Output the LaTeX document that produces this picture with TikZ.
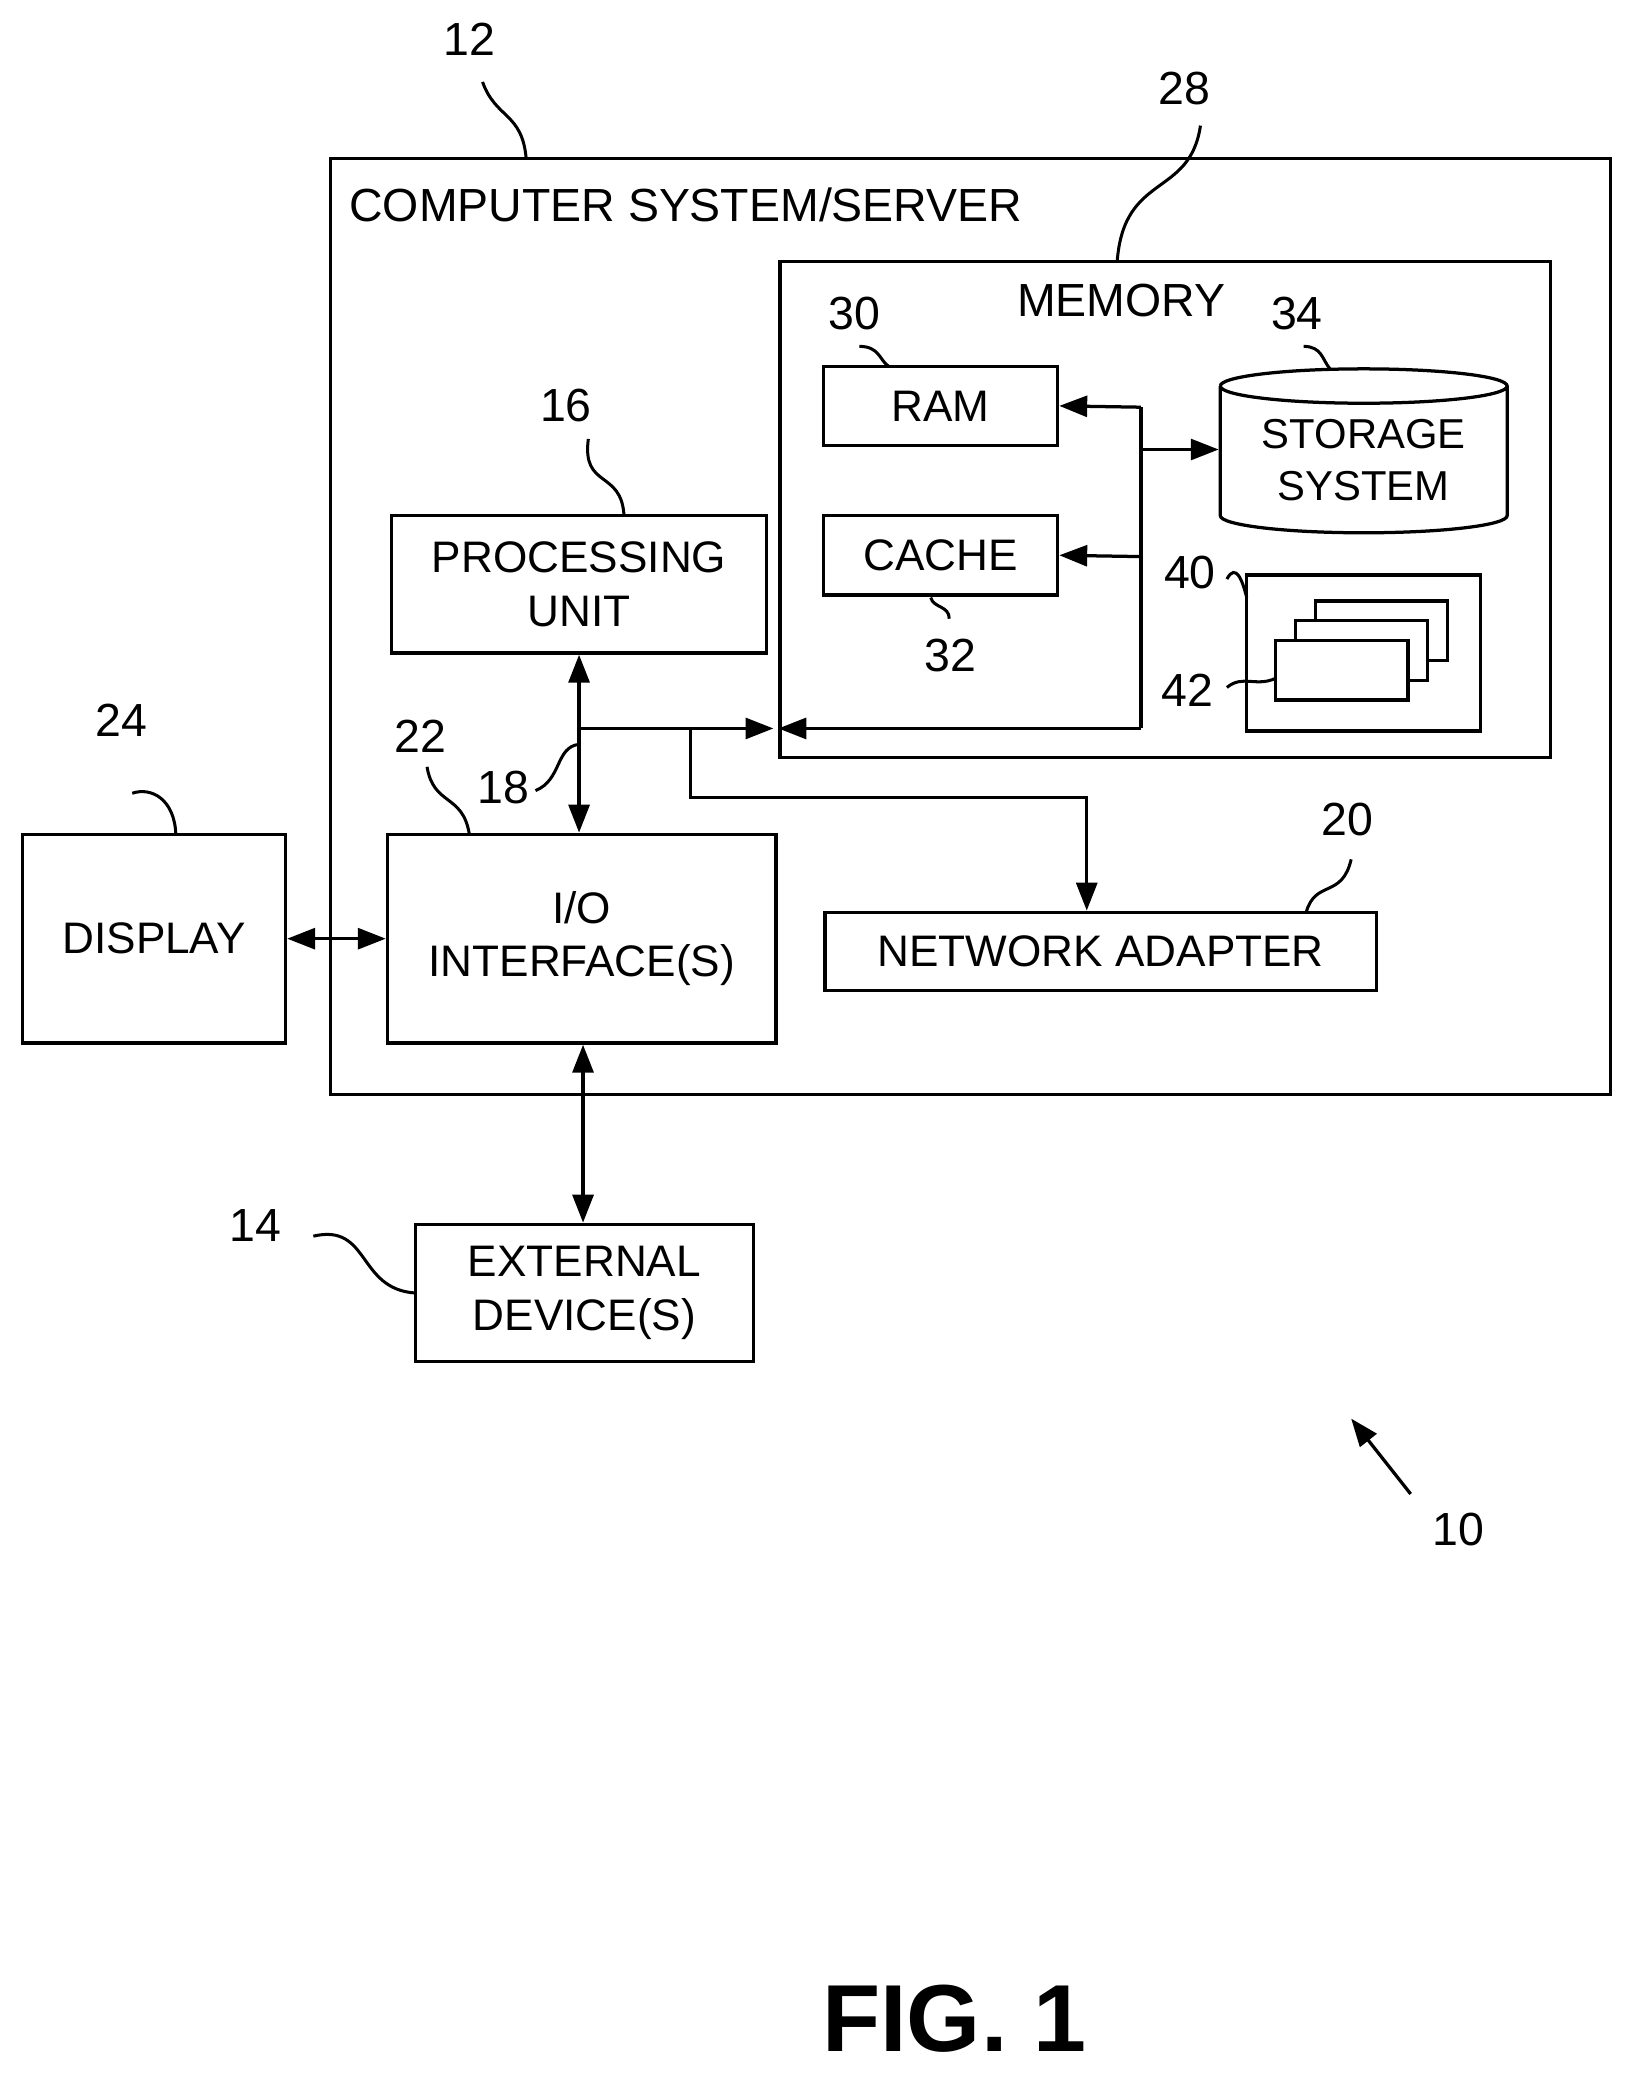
\documentclass[tikz,border=0pt]{standalone}
\usepackage{fontspec}
\setmainfont{Liberation Sans}
\usetikzlibrary{arrows.meta}
\begin{document}
\begin{tikzpicture}[x=0.02cm,y=-0.02cm,line width=1.4pt,
  box/.style={draw,rectangle,inner sep=0pt,align=center,font=\fontsize{19}{23}\selectfont},
  lbl/.style={font=\fontsize{20}{24}\selectfont,inner sep=0pt},
  arr/.style={-{Triangle[length=12pt,width=9pt]}},
  darr/.style={{Triangle[length=12pt,width=9pt]}-{Triangle[length=12pt,width=9pt]}},
  sq/.style={line width=1.3pt}]
\useasboundingbox (0,0) rectangle (1238,1568);
% outer
\node[box,minimum width=968*0.02cm,minimum height=708*0.02cm] (cs) at (734,474) {};
\node[lbl,anchor=west] (cst) at (263,155) {COMPUTER SYSTEM/SERVER};
\node[lbl] (l12) at (355,30) {12};
\draw[sq] (365,62) .. controls (375,90) and (395,85) .. (398,120);
% memory
\node[box,minimum width=583*0.02cm,minimum height=375*0.02cm] (mem) at (881.5,385.5) {};
\node[lbl] (memt) at (848,227) {MEMORY};
\node[lbl] (l28) at (896,67) {28};
\draw[sq] (908,95) .. controls (900,150) and (850,130) .. (845,198);
% RAM / cache
\node[box,minimum width=177*0.02cm,minimum height=60*0.02cm] (ram) at (711.5,307) {RAM};
\node[lbl] (l30) at (646,237) {30};
\draw[sq] (650,262) .. controls (665,262) and (665,272) .. (672,277);
\node[box,minimum width=177*0.02cm,minimum height=60*0.02cm] (cache) at (711.5,420) {CACHE};
\node[lbl] (l32) at (719,496) {32};
\draw[sq] (704,452) .. controls (706,460) and (718,458) .. (718,468);
% storage cylinder
\node[align=center,font=\fontsize{18}{22}\selectfont,inner sep=0pt,minimum width=217*0.02cm,minimum height=110*0.02cm] (st) at (1031.5,348) {STORAGE\\SYSTEM};
\draw (923,292) arc[start angle=180,end angle=-180,x radius=108.5,y radius=-13]
      (923,292) -- (923,390) arc[start angle=180,end angle=360,x radius=108.5,y radius=-13] -- (1140,292);
\node[lbl] (l34) at (981,237) {34};
\draw[sq] (986,262) .. controls (1000,262) and (1000,272) .. (1006,279);
% 40 / 42
\node[box,minimum width=177*0.02cm,minimum height=118*0.02cm] (m40) at (1031.5,494) {};
\node[lbl] (l40) at (900,433) {40};
\draw[sq] (928,438) .. controls (935,425) and (940,440) .. (943,452);
\node[box,fill=white,minimum width=100*0.02cm,minimum height=45*0.02cm] (p3) at (1045,477) {};
\node[box,fill=white,minimum width=100*0.02cm,minimum height=45*0.02cm] (p2) at (1030,492) {};
\node[box,fill=white,minimum width=100*0.02cm,minimum height=45*0.02cm] (p1) at (1015,507) {};
\node[lbl] (l42) at (898,522) {42};
\draw[sq] (928,520) .. controls (940,510) and (950,520) .. (965,513);
% memory bus
\coordinate (bt) at (863,308);
\coordinate (bb) at (863,551);
\draw (bt) -- (bb);
\draw[arr] (bt) -- (ram.east);
\draw[arr] (863,421) -- (cache.east);
\draw[arr] (863,340) -- (st.west |- 0,340);
\draw[arr] (bb) -- (mem.west |- bb);
% processing
\node[box,minimum width=284*0.02cm,minimum height=104*0.02cm] (pu) at (438,442) {PROCESSING\\UNIT};
\node[lbl] (l16) at (428,307) {16};
\draw[sq] (445,332) .. controls (440,370) and (470,355) .. (472,390);
% io
\node[box,minimum width=294*0.02cm,minimum height=158*0.02cm] (io) at (440,710) {I/O\\INTERFACE(S)};
\node[lbl] (l22) at (318,557) {22};
\draw[sq] (323,580) .. controls (328,610) and (350,600) .. (355,631);
\draw[darr] (pu.south -| 438,0) -- (io.north -| 438,0);
\coordinate (bj) at (438,551);
\draw[arr] (bj) -- (585,551);
\node[lbl] (l18) at (381,596) {18};
\draw[sq] (405,598) .. controls (425,590) and (420,565) .. (438,563);
% network
\node[box,minimum width=417*0.02cm,minimum height=59*0.02cm] (na) at (832.5,719.5) {NETWORK ADAPTER};
\node[lbl] (l20) at (1019,620) {20};
\draw[sq] (1022,650) .. controls (1015,680) and (995,665) .. (988,690);
\coordinate (nb) at (522,551);
\draw[arr] (nb) -- (522,603) -- (822,603) -- (na.north -| 822,0);
% display
\node[box,minimum width=199*0.02cm,minimum height=158*0.02cm] (disp) at (116.5,710) {DISPLAY};
\node[lbl] (l24) at (92,545) {24};
\draw[sq] (100,600) .. controls (115,595) and (132,605) .. (133,631);
\draw[darr] (disp.east) -- (io.west);
% external
\node[box,minimum width=256*0.02cm,minimum height=104*0.02cm] (ext) at (442,978) {EXTERNAL\\DEVICE(S)};
\node[lbl] (l14) at (193,927) {14};
\draw[sq] (237,935) .. controls (280,925) and (270,975) .. (314,978);
\draw[darr] (io.south -| 441,0) -- (ext.north -| 441,0);
% 10
\coordinate (a10) at (1067,1130);
\coordinate (b10) at (1022,1073);
\draw[arr] (a10) -- (b10);
\node[lbl] (l10) at (1103,1157) {10};
\node[font=\fontsize{41}{48}\selectfont\bfseries,inner sep=0pt] (fig) at (722,1527) {FIG. 1};
\end{tikzpicture}
\end{document}
